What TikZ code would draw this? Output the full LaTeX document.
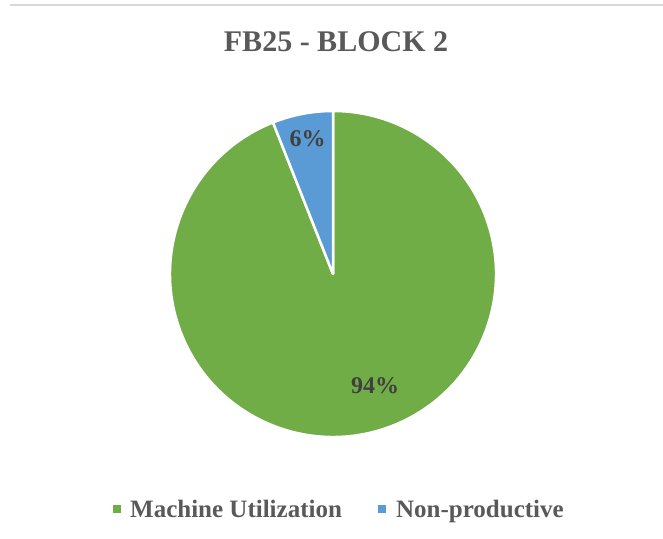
\documentclass[tikz,border=0pt]{standalone}
\usepackage{fontspec}
\setmainfont{Liberation Serif}
\usepackage{tikz}
\usetikzlibrary{positioning}

\definecolor{mugreen}{HTML}{70AD47}
\definecolor{npblue}{HTML}{5B9BD5}
\definecolor{txtgray}{HTML}{595959}
\definecolor{lblgray}{HTML}{404040}
\definecolor{rulegray}{HTML}{D9D9D9}

\begin{document}
\begin{tikzpicture}[x=1pt,y=1pt,
    slice/.style={draw=white, line width=2.5pt, line join=round},
    pct/.style={font=\fontsize{24}{24}\selectfont\bfseries, text=lblgray, inner sep=0pt},
    key/.style={minimum size=8.5pt, inner sep=0pt},
    keytext/.style={font=\fontsize{25}{26}\selectfont\bfseries, text=txtgray, inner sep=0pt, text height=17pt, text depth=0pt}]
\useasboundingbox (0,0) rectangle (663,538);
\draw[rulegray, line width=2pt] (10,532.5) -- (663,532.5);
% title
\node (title) [anchor=base, font=\fontsize{30}{30}\selectfont\bfseries, text=txtgray, inner sep=0pt] at (336,486) {FB25 - BLOCK 2};
% pie
\coordinate (c) at (333,264);
\filldraw[slice, fill=mugreen] (c) -- ++(111.6:163) arc[start angle=111.6, end angle=450, radius=163] -- cycle;
\filldraw[slice, fill=npblue] (c) -- ++(90:163) arc[start angle=90, end angle=111.6, radius=163] -- cycle;
\node (pctNP) [pct] at (307.5,399) {6\%};
\node (pctMU) [pct] at (375,152) {94\%};
% legend
\node (keyMU) [key, fill=mugreen] at (117,29) {};
\node (labMU) [keytext, right=8.5pt of keyMU] {Machine Utilization};
\node (keyNP) [key, fill=npblue] at (382,29) {};
\node (labNP) [keytext, right=9.5pt of keyNP] {Non-productive};
\end{tikzpicture}
\end{document}
